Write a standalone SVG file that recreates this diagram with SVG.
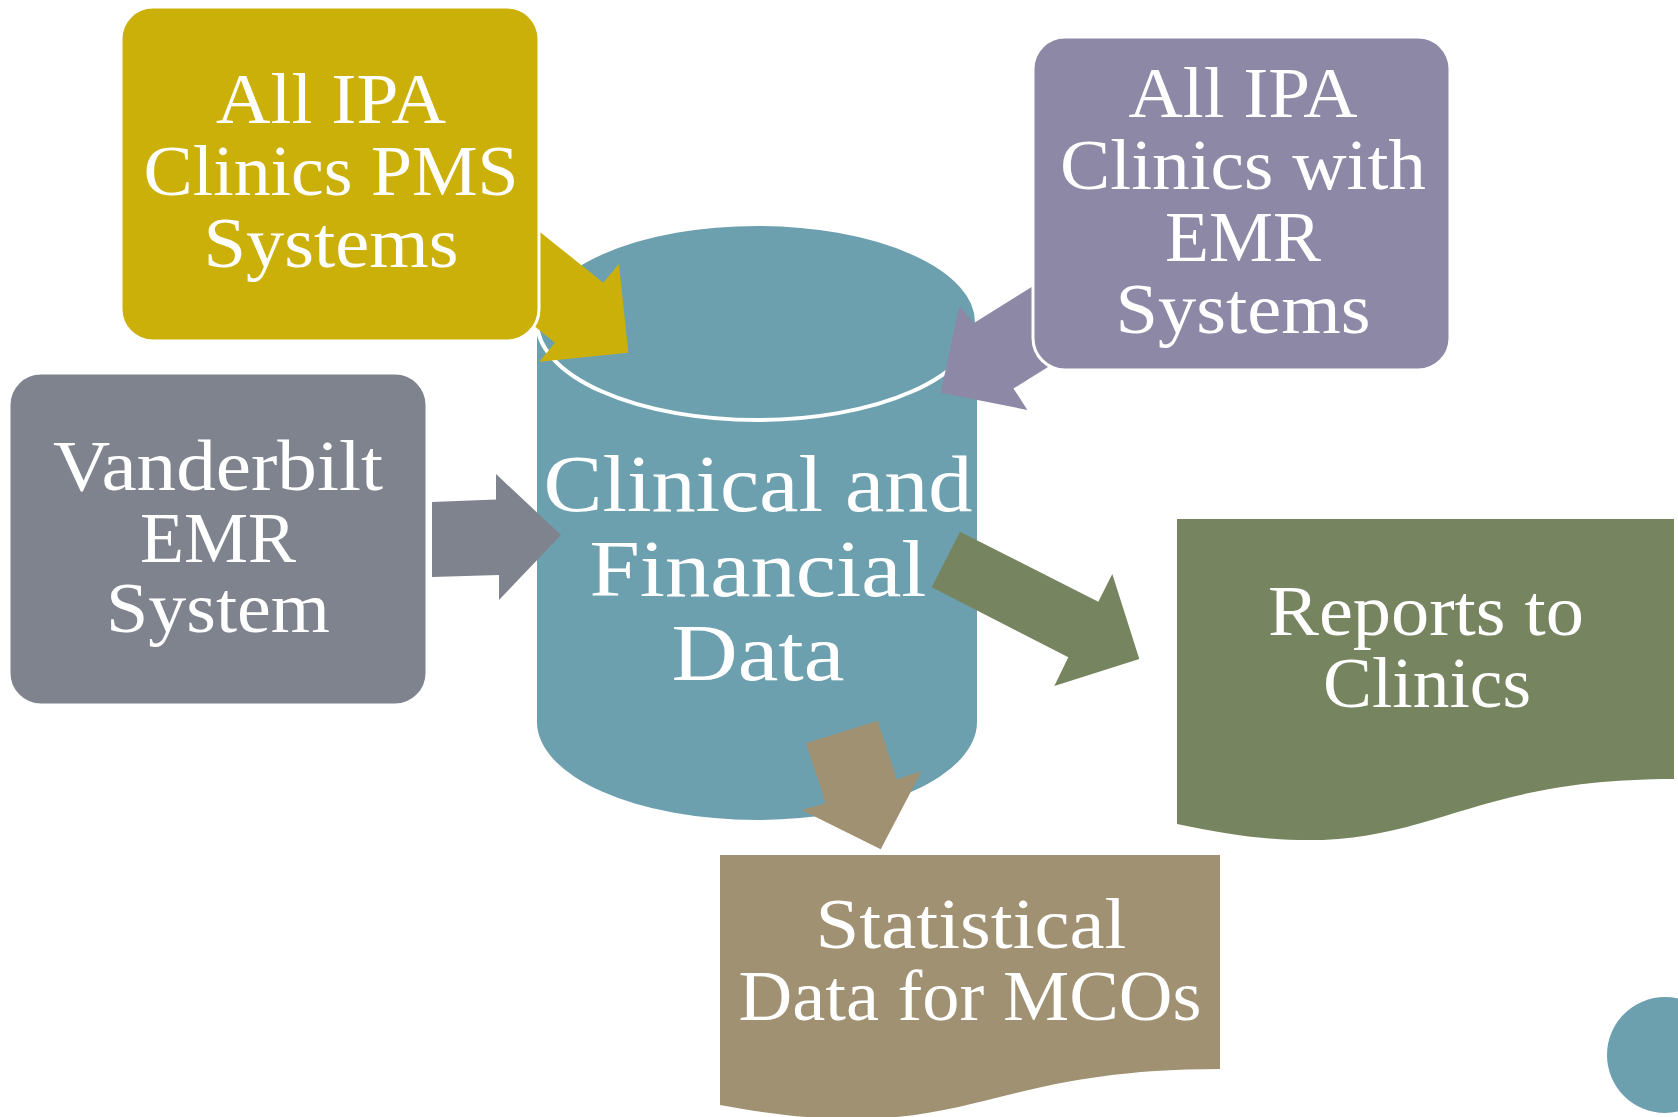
<svg xmlns="http://www.w3.org/2000/svg" width="1678" height="1117" viewBox="0 0 1678 1117">
<style>
.lbl{font-family:"Liberation Serif","Times New Roman",serif;fill:#ffffff;text-anchor:middle;}
.s72{font-size:72px;}
.s80{font-size:80px;}
.box{stroke:#ffffff;stroke-width:3;}
</style>
<rect width="1678" height="1117" fill="#ffffff"/>
<g id="cylinder">
<path d="M537,322 V722 A220,98 0 0 0 977,722 V322 A220,98 0 0 0 537,322 Z" fill="#6da0af"/>
<ellipse cx="757" cy="322" rx="220" ry="98" fill="#6da0af" stroke="#ffffff" stroke-width="4"/>
<text class="lbl s80" x="758" y="511" textLength="429" lengthAdjust="spacingAndGlyphs">Clinical and</text>
<text class="lbl s80" x="758" y="596" textLength="337" lengthAdjust="spacingAndGlyphs">Financial</text>
<text class="lbl s80" x="758" y="680" textLength="173" lengthAdjust="spacingAndGlyphs">Data</text>
</g>
<g id="connectors">
<polygon points="520,216 603.3,282.7 619,264 628.3,352.7 539.3,361.7 555,342.7 520,314.6" fill="#ccb00a"/>
<polygon points="1050,275.6 974,323 959.3,306 940.7,392.7 1027.4,410 1013.5,388.5 1060,359.5" fill="#8c88a5"/>
<polygon points="432,502 496,499.5 496,474 561,535 499,600 499,575 432,577" fill="#7f838d"/>
<polygon points="960,531.7 1098.3,601.7 1112.3,574 1139.3,659 1054.3,686 1068.3,657.3 931.7,587.3" fill="#768560"/>
<polygon points="806,743.3 877.7,720.7 896.7,779.3 921.7,771 880.7,849.3 801.7,810 825.7,803.3" fill="#9f9171"/>
</g>
<g id="pms">
<rect class="box" x="121" y="7" width="418" height="334" rx="32" fill="#ccb00a"/>
<text class="lbl s72" x="331" y="123" textLength="230" lengthAdjust="spacingAndGlyphs">All IPA</text>
<text class="lbl s72" x="331" y="195" textLength="375" lengthAdjust="spacingAndGlyphs">Clinics PMS</text>
<text class="lbl s72" x="331" y="267" textLength="255" lengthAdjust="spacingAndGlyphs">Systems</text>
</g>
<g id="emr-clinics">
<rect class="box" x="1033" y="37" width="417" height="333" rx="32" fill="#8c88a5"/>
<text class="lbl s72" x="1243" y="117" textLength="229" lengthAdjust="spacingAndGlyphs">All IPA</text>
<text class="lbl s72" x="1243" y="189" textLength="366" lengthAdjust="spacingAndGlyphs">Clinics with</text>
<text class="lbl s72" x="1243" y="261" textLength="156" lengthAdjust="spacingAndGlyphs">EMR</text>
<text class="lbl s72" x="1243" y="333" textLength="255" lengthAdjust="spacingAndGlyphs">Systems</text>
</g>
<g id="vanderbilt">
<rect class="box" x="9" y="373" width="418" height="332" rx="32" fill="#7f838d"/>
<text class="lbl s72" x="218" y="490" textLength="330" lengthAdjust="spacingAndGlyphs">Vanderbilt</text>
<text class="lbl s72" x="218" y="562" textLength="156" lengthAdjust="spacingAndGlyphs">EMR</text>
<text class="lbl s72" x="218" y="632" textLength="224" lengthAdjust="spacingAndGlyphs">System</text>
</g>
<g id="reports">
<path d="M1177,519 H1674 V779 C1425,779 1425,878 1177,824 Z" fill="#768560"/>
<text class="lbl s72" x="1426" y="635" textLength="316" lengthAdjust="spacingAndGlyphs">Reports to</text>
<text class="lbl s72" x="1427" y="707" textLength="208" lengthAdjust="spacingAndGlyphs">Clinics</text>
</g>
<g id="statistical">
<path d="M720,855 H1220 V1069 C970,1069 970,1151 720,1105 Z" fill="#9f9171"/>
<text class="lbl s72" x="971" y="948" textLength="311" lengthAdjust="spacingAndGlyphs">Statistical</text>
<text class="lbl s72" x="970" y="1020" textLength="463" lengthAdjust="spacingAndGlyphs">Data for MCOs</text>
</g>
<g id="dot">
<circle cx="1665" cy="1055" r="58" fill="#6da0af"/>
</g>
</svg>
